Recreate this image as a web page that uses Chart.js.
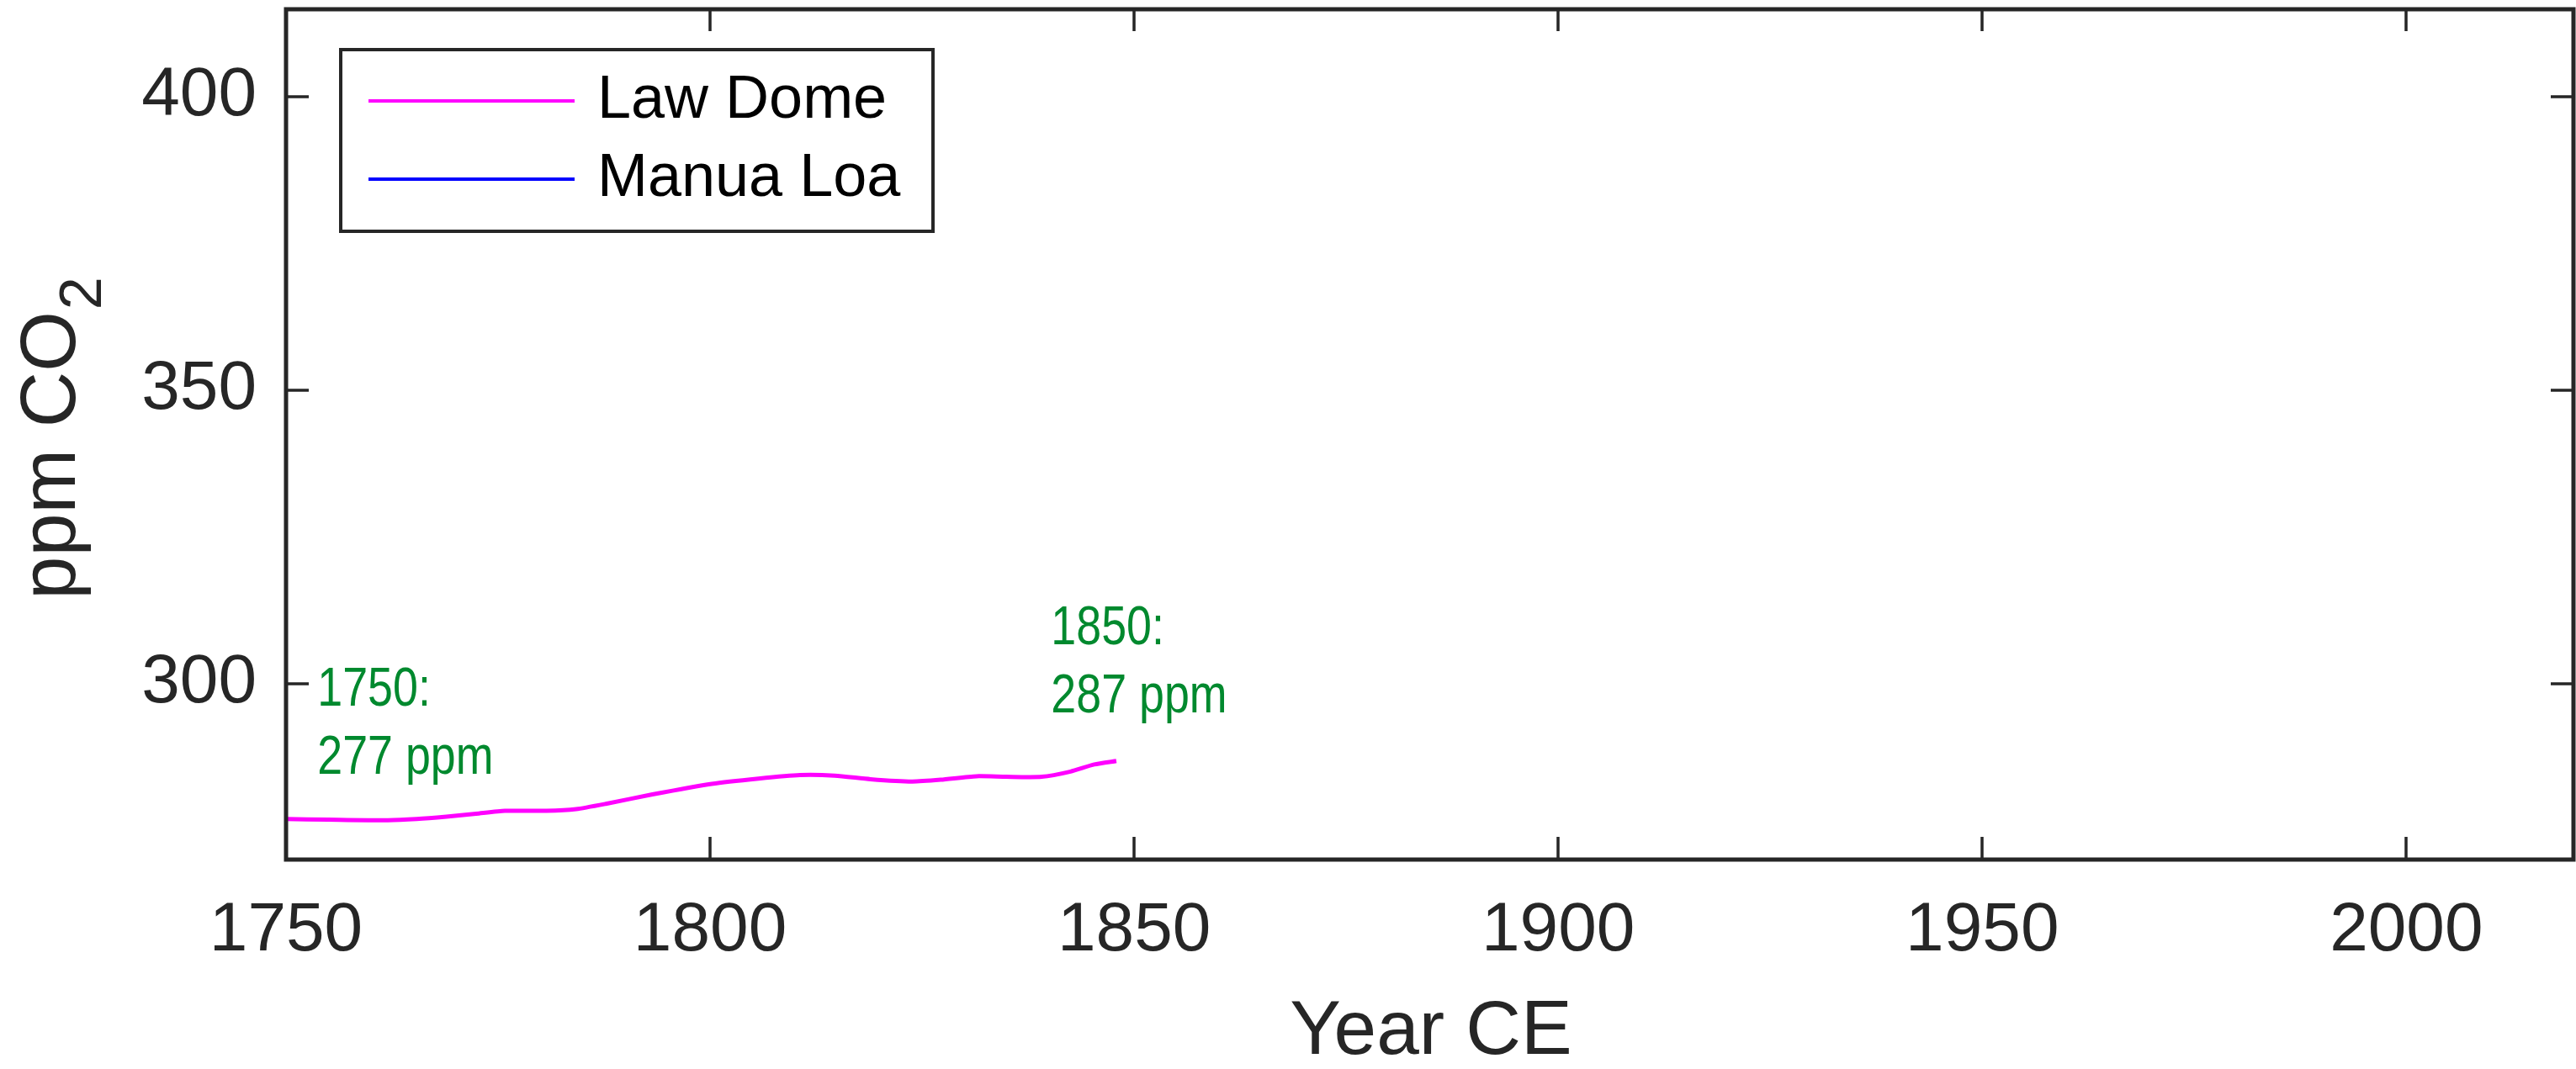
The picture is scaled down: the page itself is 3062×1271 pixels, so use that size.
<!DOCTYPE html>
<html>
<head>
<meta charset="utf-8">
<script src="https://cdn.jsdelivr.net/npm/chart.js@4.4.1/dist/chart.umd.min.js"></script>
<style>
  html, body { margin: 0; padding: 0; background: #fff; }
  #wrap { width: 3062px; height: 1271px; position: relative; }
</style>
</head>
<body>
<div id="wrap"><canvas id="co2Chart"></canvas></div>
<script>
// Law Dome ice core record
const lawDomeYears = [1750, 1755, 1762, 1765.4, 1768.9, 1772.4, 1775.8, 1780.7, 1784.2, 1787.7, 1793.2, 1800.2, 1805.7, 1810.6, 1814.7, 1818.9, 1823.8, 1827.2, 1831.4, 1834.9, 1839.1, 1842.5, 1845.3, 1847.9];
const lawDomeCO2 = [276.9, 276.8, 276.7, 276.9, 277.3, 277.8, 278.3, 278.3, 278.6, 279.5, 281.1, 282.9, 283.8, 284.4, 284.3, 283.7, 283.3, 283.6, 284.2, 284.1, 284.1, 285.0, 286.2, 286.8];

// Manua Loa: in the legend only, no points drawn in this panel
const maunaLoaYears = [];
const maunaLoaCO2 = [];

const xTickValues = [1750, 1800, 1850, 1900, 1950, 2000];
const yTickValues = [300, 350, 400];

// green notes: text lines, anchor year and ppm of the first line
const noteTexts = [["1750:", "277 ppm"], ["1850:", "287 ppm"]];
const noteYears = [1753.7, 1840.2];
const notePpm = [296.2, 306.7];

const AXIS = "#262626";
const FONT = "'Liberation Sans', Arial, Helvetica, sans-serif";

function toPoints(xs, ys) {
	return xs.map((x, i) => ({ x: x, y: ys[i] }));
}

// 테두리, 안쪽 눈금, 범례, 주석, 축 제목
const decorPlugin = {
	id: "decor",
	afterDraw(chart) {
		const ctx = chart.ctx;
		const area = chart.chartArea;
		const xs = chart.scales.x;
		const ys = chart.scales.y;
		ctx.save();

		// box
		ctx.strokeStyle = AXIS;
		ctx.lineWidth = 5;
		ctx.strokeRect(area.left, area.top + 1, area.right - area.left - 3, area.bottom - area.top - 1);

		// inward ticks on all four sides
		ctx.lineWidth = 3.5;
		ctx.beginPath();
		xTickValues.forEach((v) => {
			const px = Math.round(xs.getPixelForValue(v));
			ctx.moveTo(px, area.bottom);
			ctx.lineTo(px, area.bottom - 27);
			ctx.moveTo(px, area.top);
			ctx.lineTo(px, area.top + 27);
		});
		yTickValues.forEach((v) => {
			const py = Math.round(ys.getPixelForValue(v));
			ctx.moveTo(area.left, py);
			ctx.lineTo(area.left + 27, py);
			ctx.moveTo(area.right - 3, py);
			ctx.lineTo(area.right - 30, py);
		});
		ctx.stroke();

		// legend
		ctx.lineWidth = 4;
		ctx.strokeStyle = AXIS;
		ctx.fillStyle = "#fff";
		ctx.fillRect(405, 59, 704, 216);
		ctx.strokeRect(405, 59, 704, 216);
		const rowY = [120, 213];
		chart.data.datasets.forEach((ds, i) => {
			ctx.strokeStyle = ds.borderColor;
			ctx.lineWidth = 4;
			ctx.beginPath();
			ctx.moveTo(438, rowY[i]);
			ctx.lineTo(683, rowY[i]);
			ctx.stroke();
			ctx.fillStyle = "#000";
			ctx.font = "72px " + FONT;
			ctx.textAlign = "left";
			ctx.textBaseline = "alphabetic";
			ctx.fillText(ds.label, 710, rowY[i] + 20);
		});

		// green notes
		ctx.fillStyle = "#00892e";
		ctx.font = "64px " + FONT;
		noteTexts.forEach((lines, i) => {
			const nx = xs.getPixelForValue(noteYears[i]);
			const ny = ys.getPixelForValue(notePpm[i]);
			lines.forEach((t, j) => {
				ctx.save();
				ctx.translate(nx, ny + j * 81);
				ctx.scale(0.84, 1);
				ctx.fillText(t, 0, 0);
				ctx.restore();
			});
		});

		// x title
		ctx.fillStyle = AXIS;
		ctx.font = "91px " + FONT;
		ctx.textAlign = "center";
		ctx.fillText("Year CE", (area.left + area.right) / 2, 1253);

		// y title with subscript
		const mainText = "ppm CO";
		const subText = "2";
		ctx.font = "92px " + FONT;
		const w1 = ctx.measureText(mainText).width;
		ctx.font = "70px " + FONT;
		const w2 = ctx.measureText(subText).width;
		ctx.save();
		ctx.translate(89, (area.top + area.bottom) / 2 + 6);
		ctx.rotate(-Math.PI / 2);
		ctx.textAlign = "left";
		ctx.font = "92px " + FONT;
		ctx.fillText(mainText, -(w1 + w2) / 2, 0);
		ctx.font = "70px " + FONT;
		ctx.fillText(subText, -(w1 + w2) / 2 + w1 + 2, 31);
		ctx.restore();

		ctx.restore();
	},
};

const chart = new Chart(document.getElementById("co2Chart"), {
	type: "line",
	data: {
		datasets: [
			{
				label: "Law Dome",
				data: toPoints(lawDomeYears, lawDomeCO2),
				borderColor: "#ff00ff",
				borderWidth: 5,
				pointRadius: 0,
				tension: 0.2,
				fill: false,
			},
			{
				label: "Manua Loa",
				data: toPoints(maunaLoaYears, maunaLoaCO2),
				borderColor: "#0000ff",
				borderWidth: 5,
				pointRadius: 0,
				fill: false,
			},
		],
	},
	options: {
		responsive: true,
		maintainAspectRatio: false,
		animation: false,
		layout: { autoPadding: false, padding: { top: 10, right: 0, bottom: 0, left: 0 } },
		plugins: {
			legend: { display: false },
			tooltip: { enabled: false },
		},
		scales: {
			x: {
				type: "linear",
				min: 1750,
				max: 2020,
				afterBuildTicks: (scale) => {
					scale.ticks = xTickValues.map((v) => ({ value: v }));
				},
				afterFit: (scale) => {
					scale.height = 249;
					scale.paddingLeft = 0;
					scale.paddingRight = 0;
				},
				grid: { display: false, drawTicks: false },
				border: { display: false },
				ticks: {
					color: AXIS,
					padding: 36,
					maxRotation: 0,
					autoSkip: false,
					font: { family: FONT, size: 82 },
					callback: (v) => String(v),
				},
			},
			y: {
				type: "linear",
				min: 270,
				max: 415,
				afterBuildTicks: (scale) => {
					scale.ticks = yTickValues.map((v) => ({ value: v }));
				},
				afterFit: (scale) => {
					scale.width = 340;
					scale.paddingTop = 0;
					scale.paddingBottom = 0;
				},
				grid: { display: false, drawTicks: false },
				border: { display: false },
				ticks: {
					color: AXIS,
					padding: 35,
					autoSkip: false,
					font: { family: FONT, size: 82 },
					callback: (v) => String(v),
				},
			},
		},
	},
	plugins: [decorPlugin],
});
</script>
</body>
</html>
